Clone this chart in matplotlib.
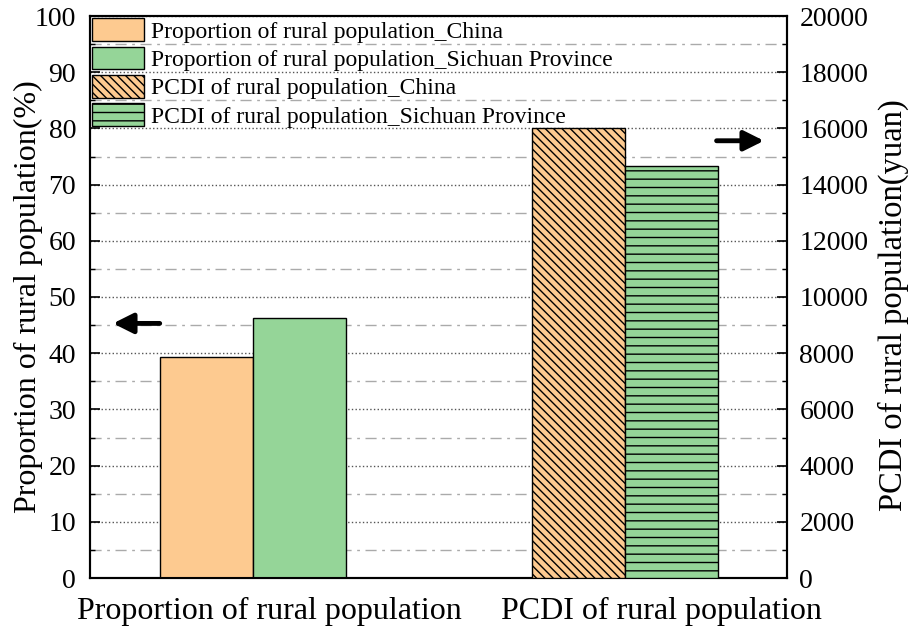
import matplotlib
matplotlib.use("Agg")
import matplotlib.pyplot as plt
import matplotlib.transforms as mtransforms
from matplotlib.patches import Patch
from matplotlib.ticker import MultipleLocator
import numpy as np

plt.rcParams['font.family'] = ['Liberation Serif', 'DejaVu Serif']
plt.rcParams['hatch.linewidth'] = 1.0

categories = ["Proportion of rural population", "PCDI of rural population"]
proportion_values = [39.4, 46.2]          # China, Sichuan Province (%)
pcdi_values = [16021, 14670]              # China, Sichuan Province (yuan)
legend_labels = [
    "Proportion of rural population_China",
    "Proportion of rural population_Sichuan Province",
    "PCDI of rural population_China",
    "PCDI of rural population_Sichuan Province",
]

orange = "#FDCA90"
green = "#95D598"
width = 0.25
x = np.arange(len(categories))
diag_hatch = "\\\\\\\\"
horiz_hatch = "--"

W, H = 909, 631
fig = plt.figure(figsize=(W / 100, H / 100), dpi=100)
left, right, top, bottom = 90, 787, 16, 578
ax = fig.add_axes([left / W, 1 - bottom / H, (right - left) / W, (bottom - top) / H])
ax2 = ax.twinx()

# left axis: proportions
ax.bar(x[0] - width / 2, proportion_values[0], width, color=orange,
       edgecolor="black", linewidth=1.0, zorder=3)
ax.bar(x[0] + width / 2, proportion_values[1], width, color=green,
       edgecolor="black", linewidth=1.0, zorder=3)

# right axis: PCDI
ax2.bar(x[1] - width / 2, pcdi_values[0], width, color=orange,
        edgecolor="black", linewidth=1.0, hatch=diag_hatch, zorder=3)
ax2.bar(x[1] + width / 2, pcdi_values[1], width, color=green,
        edgecolor="black", linewidth=1.0, hatch=horiz_hatch, zorder=3)

ax.set_xlim(-0.437, 1.435)
ax.set_ylim(0, 100)
ax2.set_ylim(0, 20000)
ax.set_xticks(x)
ax.set_xticklabels(categories, fontsize=23)
ax.tick_params(axis="x", length=0, pad=14)
# category labels sit a little right of their bar groups
for lbl, dx in zip(ax.get_xticklabels(), [17, 36]):
    lbl.set_transform(lbl.get_transform() +
                      mtransforms.ScaledTranslation(dx / 100, 0, fig.dpi_scale_trans))

ax.yaxis.set_major_locator(MultipleLocator(10))
ax.yaxis.set_minor_locator(MultipleLocator(5))
ax2.yaxis.set_major_locator(MultipleLocator(2000))
ax2.yaxis.set_minor_locator(MultipleLocator(1000))
ax.tick_params(axis="y", which="major", direction="in", length=7, width=1.2,
               labelsize=20, pad=10)
ax.tick_params(axis="y", which="minor", direction="in", length=3.5, width=1.0)
ax2.tick_params(axis="y", which="major", direction="in", length=7, width=1.2,
                labelsize=20, pad=9)
ax2.tick_params(axis="y", which="minor", direction="in", length=3.5, width=1.0)

# gridlines: dotted at major ticks, dash-dot grey at minor ticks
ax.grid(True, axis="y", which="major", linestyle=":", color="#555555",
        linewidth=1.0, zorder=0)
ax.grid(True, axis="y", which="minor", linestyle=(0, (8, 4, 2, 4)),
        color="#AAAAAA", linewidth=1.0, zorder=0)
ax.set_axisbelow(True)

for a in (ax, ax2):
    for s in a.spines.values():
        s.set_linewidth(1.5)
        s.set_color("black")

ax.set_ylabel("Proportion of rural population(%)", fontsize=23)
ax2.set_ylabel("PCDI of rural population(yuan)", fontsize=23.5)
ax.yaxis.label.set_verticalalignment("center")
ax2.yaxis.label.set_verticalalignment("center")
ax.yaxis.set_label_coords((28 - left) / (right - left), 0.5)
ax2.yaxis.set_label_coords((893 - left) / (right - left), (bottom - 305) / (bottom - top))

# direction arrows pointing to the relevant axis
ax.annotate("", xy=(0.033, 0.453), xytext=(0.10, 0.453),
            xycoords="axes fraction",
            arrowprops=dict(arrowstyle="-|>", color="black", lw=3.5,
                            mutation_scale=30, shrinkA=0, shrinkB=0))
ax.annotate("", xy=(0.967, 0.778), xytext=(0.899, 0.778),
            xycoords="axes fraction",
            arrowprops=dict(arrowstyle="-|>", color="black", lw=3.5,
                            mutation_scale=30, shrinkA=0, shrinkB=0))

handles = [
    Patch(facecolor=orange, edgecolor="black", linewidth=1.0),
    Patch(facecolor=green, edgecolor="black", linewidth=1.0),
    Patch(facecolor=orange, edgecolor="black", linewidth=1.0, hatch=diag_hatch),
    Patch(facecolor=green, edgecolor="black", linewidth=1.0, hatch=horiz_hatch),
]
leg = ax2.legend(handles, legend_labels, loc="upper left",
                 bbox_to_anchor=(0.0, 1.0), frameon=False, fontsize=17,
                 handlelength=2.2, handleheight=1.1, labelspacing=0.17,
                 handletextpad=0.3, borderaxespad=0.0, borderpad=0.1)

fig.savefig("out.png", dpi=100)
